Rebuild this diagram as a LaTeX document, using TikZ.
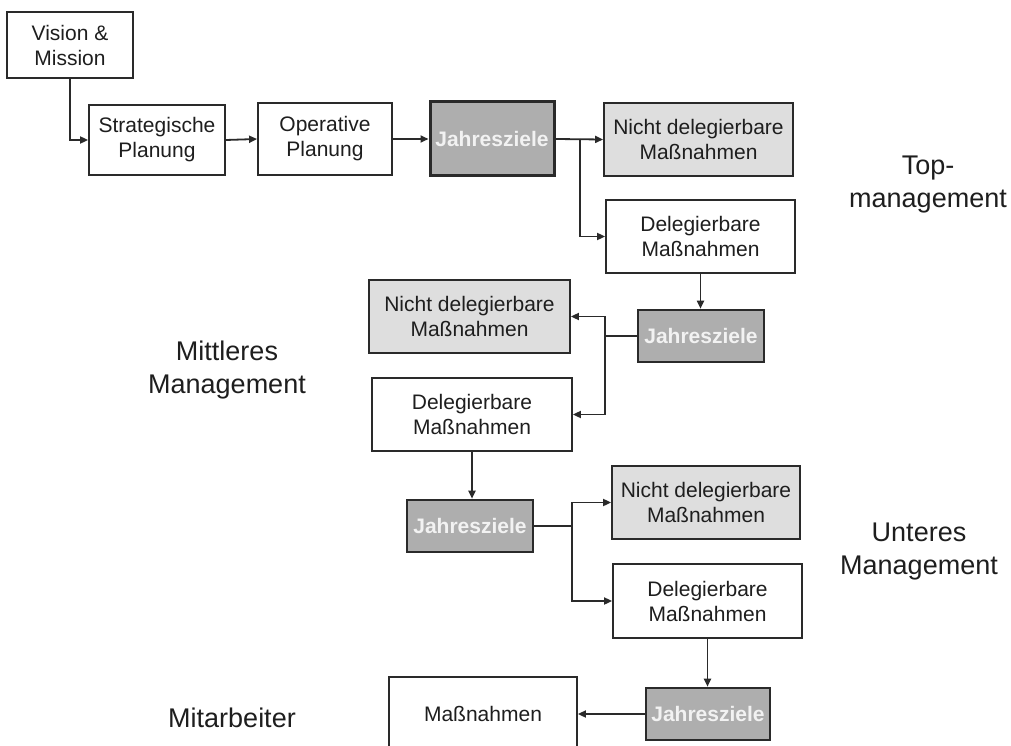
\documentclass[tikz,border=0pt]{standalone}
\usepackage{fontspec}
\setmainfont{Liberation Sans}
\usetikzlibrary{arrows.meta}
\definecolor{txt}{HTML}{1E1E1E}
\definecolor{jfill}{HTML}{AEAEAE}
\definecolor{ndfill}{HTML}{DEDEDE}
\definecolor{edge}{HTML}{2A2A2A}
\tikzset{
  box/.style={draw=edge, line width=1.8pt, fill=white, inner sep=0pt, align=center,
    text=txt, font=\fontsize{21}{25}\selectfont},
  ndbox/.style={box, fill=ndfill},
  jbox/.style={draw=edge, line width=2.6pt, fill=jfill, inner sep=0pt, align=center,
    text=white!95!black, font=\fontsize{21}{25}\selectfont\bfseries},
  lbl/.style={align=center, text=txt, font=\fontsize{27}{33}\selectfont},
  conn/.style={draw=edge, line width=1.8pt},
  arr/.style={conn, -{Triangle[length=8pt,width=7pt]}}
}
\begin{document}
\begin{tikzpicture}[x=1pt,y=-1pt]
\clip (0,0) rectangle (1011,746);
\fill[white] (0,0) rectangle (1011,746);
% top row
\node[box, minimum width=126pt, minimum height=66pt] (V) at (70,45) {Vision \&\\Mission};
\node[box, minimum width=136pt, minimum height=70pt] (S) at (157,140) {Strategische\\Planung};
\node[box, minimum width=134pt, minimum height=72pt] (O) at (325,139) {Operative\\Planung};
\node[jbox, minimum width=124pt, minimum height=74pt, line width=3pt] (J1) at (492,139) {Jahresziele};
\node[ndbox, minimum width=189pt, minimum height=73pt] (ND1) at (698.5,139.5) {Nicht delegierbare\\Maßnahmen};
\node[box, minimum width=189pt, minimum height=73pt] (D1) at (700.5,236.5) {Delegierbare\\Maßnahmen};
% middle
\node[jbox, minimum width=126pt, minimum height=52pt] (J2) at (701,336) {Jahresziele};
\node[ndbox, minimum width=201pt, minimum height=73pt] (ND2) at (469.5,316.5) {Nicht delegierbare\\Maßnahmen};
\node[box, minimum width=200pt, minimum height=73pt] (D2) at (472,414.5) {Delegierbare\\Maßnahmen};
% lower
\node[jbox, minimum width=126pt, minimum height=52pt] (J3) at (470,526) {Jahresziele};
\node[ndbox, minimum width=188pt, minimum height=73pt] (ND3) at (706,502.5) {Nicht delegierbare\\Maßnahmen};
\node[box, minimum width=189pt, minimum height=74pt] (D3) at (707.5,601) {Delegierbare\\Maßnahmen};
% bottom
\node[jbox, minimum width=124pt, minimum height=52pt] (J4) at (708,714) {Jahresziele};
\node[box, minimum width=188pt, minimum height=74pt] (M) at (483,714) {Maßnahmen};
% labels
\node[lbl] (Ltop) at (928,185) {Top-\\management};
\node[lbl] (Lmid) at (227,370) {Mittleres\\Management};
\node[lbl] (Llow) at (919,552) {Unteres\\Management};
\node[lbl] (Lma) at (232,718) {Mitarbeiter};
% connectors
\coordinate (b1) at (580,139);
\coordinate (b2) at (605,336);
\coordinate (b3) at (572,526);
\draw[arr] (V.south) |- (S.west);
\draw[arr] (S.east) -- (O.west);
\draw[arr] (O.east) -- (J1.west);
\draw[arr] (J1.east) -- (ND1.west);
\draw[arr] (b1) |- (D1.west);
\draw[arr] (D1.south) -- (D1.south |- J2.north);
\draw[conn] (J2.west) -- (b2);
\draw[arr] (b2) |- (ND2.east);
\draw[arr] (b2) |- (D2.east);
\draw[arr] (D2.south) -- (D2.south |- J3.north);
\draw[conn] (J3.east) -- (b3);
\draw[arr] (b3) |- (ND3.west);
\draw[arr] (b3) |- (D3.west);
\draw[arr] (D3.south) -- (D3.south |- J4.north);
\draw[arr] (J4.west) -- (M.east);
\end{tikzpicture}
\end{document}
